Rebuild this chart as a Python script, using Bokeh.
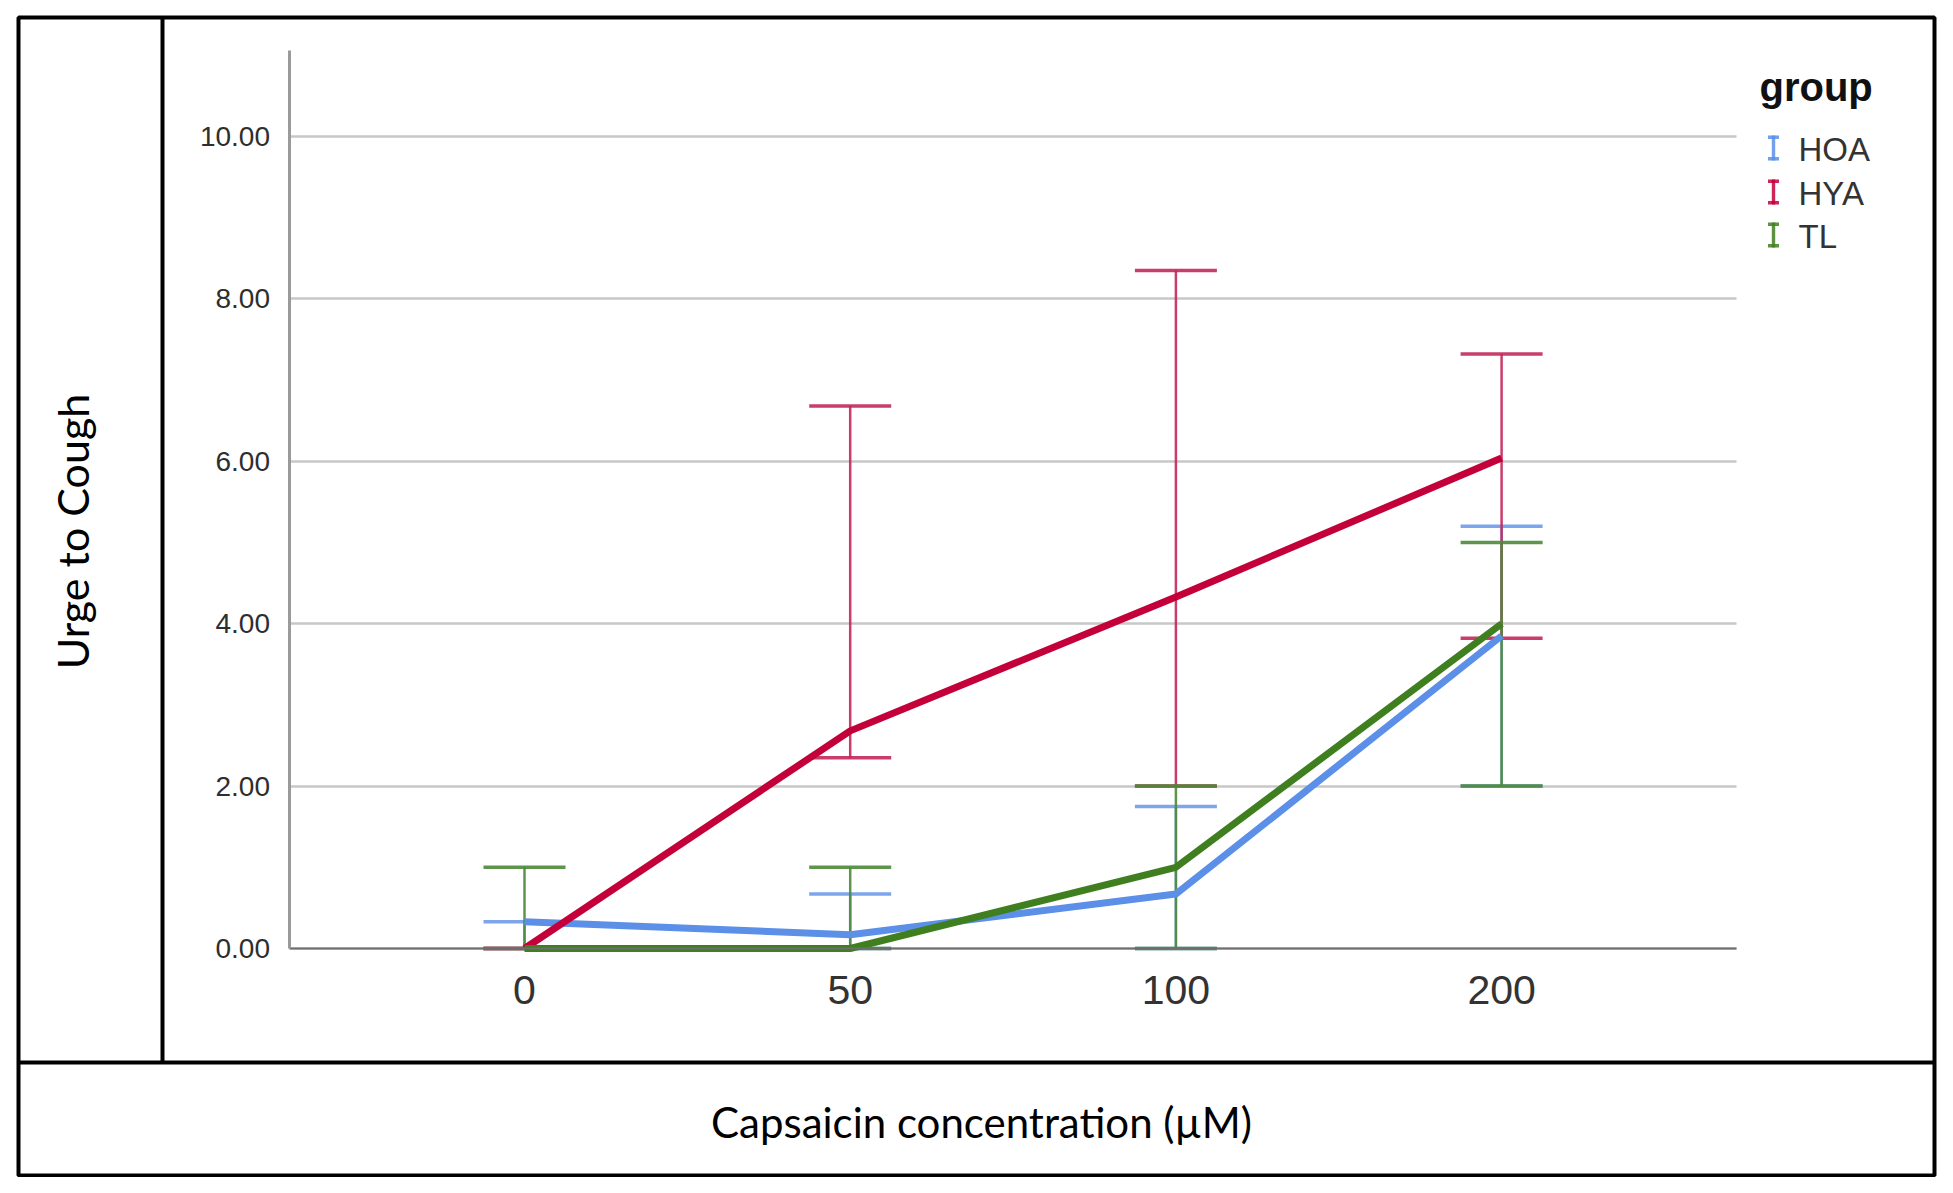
from math import pi
from bokeh.plotting import figure
from bokeh.models import (Range1d, FixedTicker, PrintfTickFormatter, Whisker, TeeHead,
                          ColumnDataSource, Label, BoxAnnotation, LinearAxis, Grid)
from bokeh.embed import file_html
from bokeh.resources import INLINE

# ---------------- data ----------------
conc_labels = ["0", "50", "100", "200"]
groups = ["HOA", "HYA", "TL"]

hoa_mean = [0.33, 0.17, 0.67, 3.85]
hoa_lower = [0.0, 0.0, 0.0, 2.0]
hoa_upper = [0.33, 0.67, 1.75, 5.20]

hya_mean = [0.0, 2.68, 4.33, 6.04]
hya_lower = [0.0, 2.35, 2.0, 3.82]
hya_upper = [0.0, 6.68, 8.35, 7.32]

tl_mean = [0.0, 0.0, 1.0, 4.0]
tl_lower = [0.0, 0.0, 0.0, 2.0]
tl_upper = [1.0, 1.0, 2.0, 5.0]

y_ticks = [0, 2, 4, 6, 8, 10]
y_max = 11.06

line_colors = {"HOA": "#5B8FE8", "HYA": "#C4003A", "TL": "#3F7F1F"}
bar_colors = {"HOA": "#6E9BEA", "HYA": "#C2285A", "TL": "#4C8A38"}

series = {
    "HOA": (hoa_mean, hoa_lower, hoa_upper),
    "HYA": (hya_mean, hya_lower, hya_upper),
    "TL": (tl_mean, tl_lower, tl_upper),
}

# ---------------- geometry: the frame covers the whole canvas ----------------
W, H = 1937, 1177
PX_X = 325.7      # pixels per category step
X0_PX = 524.0     # pixel of first category
PX_Y = 81.2       # pixels per y unit
Y0_PX = 948.0     # pixel of y = 0
X_PAD = 0.72      # axis extends this far beyond first/last category

x_idx = list(range(len(conc_labels)))
x_lo, x_hi = x_idx[0] - X_PAD, x_idx[-1] + X_PAD

p = figure(width=W, height=H,
           x_range=Range1d(-X0_PX / PX_X, (W - X0_PX) / PX_X),
           y_range=Range1d(-(H - Y0_PX) / PX_Y, Y0_PX / PX_Y),
           output_backend="svg", toolbar_location=None,
           x_axis_location=None, y_axis_location=None,
           min_border=0, min_border_left=0, min_border_right=0,
           min_border_top=0, min_border_bottom=0)
p.outline_line_color = None
p.background_fill_color = "white"
p.border_fill_color = "white"
for g_ in p.grid:
    g_.visible = False


def sx(page_x):
    return page_x


def sy(page_y):
    return H - page_y


# grid lines
grid = Grid(dimension=1, ticker=FixedTicker(ticks=y_ticks),
            grid_line_color="#C8C8C8", grid_line_width=2.6)
if "cross_bounds" in Grid.properties():
    grid.cross_bounds = (x_lo, x_hi)
    p.add_layout(grid, "center")
else:
    p.segment(x0=[x_lo] * len(y_ticks), x1=[x_hi] * len(y_ticks), y0=y_ticks, y1=y_ticks,
              line_color="#C8C8C8", line_width=2.6)

# y axis
yax = LinearAxis(fixed_location=x_lo, bounds=(0, y_max))
yax.ticker = FixedTicker(ticks=y_ticks)
yax.formatter = PrintfTickFormatter(format="%.2f")
yax.major_label_text_font = "Liberation Sans"
yax.major_label_text_font_size = "28px"
yax.major_label_text_color = "#2E2E2E"
yax.major_tick_line_color = None
yax.minor_tick_line_color = None
yax.axis_line_color = "#9A9A9A"
yax.axis_line_width = 3
yax.major_label_standoff = 14
p.add_layout(yax, "left")

# x axis
xax = LinearAxis(fixed_location=0, bounds=(x_lo, x_hi))
xax.ticker = FixedTicker(ticks=x_idx)
xax.major_label_overrides = {i: lab for i, lab in zip(x_idx, conc_labels)}
xax.major_label_text_font = "Liberation Sans"
xax.major_label_text_font_size = "41px"
xax.major_label_text_color = "#333333"
xax.major_tick_line_color = None
xax.minor_tick_line_color = None
xax.axis_line_color = "#6E6E6E"
xax.axis_line_width = 2
xax.major_label_standoff = 21
p.add_layout(xax, "below")

# mean lines
for g in groups:
    mean, lo, up = series[g]
    p.line(x_idx, mean, line_color=line_colors[g], line_width=7, line_join="round")

# error bars
for g in groups:
    mean, lo, up = series[g]
    src = ColumnDataSource(dict(x=x_idx, lower=lo, upper=up))
    c = bar_colors[g]
    w = Whisker(source=src, base="x", lower="lower", upper="upper",
                line_color=c, line_width=2.5, line_alpha=0.9,
                upper_head=TeeHead(size=82, line_color=c, line_width=3.5, line_alpha=0.9),
                lower_head=TeeHead(size=82, line_color=c, line_width=3.5, line_alpha=0.9))
    p.add_layout(w)


def box(l, r, t, b, **kw):
    p.add_layout(BoxAnnotation(left=sx(l), right=sx(r), top=sy(t), bottom=sy(b),
                               left_units="screen", right_units="screen",
                               top_units="screen", bottom_units="screen", **kw))


# ---------------- table borders ----------------
box(18, 1934, 17, 1175, fill_color=None, fill_alpha=0,
    line_color="black", line_alpha=1, line_width=4)
box(160, 164, 17, 1062, fill_color="black", fill_alpha=1, line_color=None)
box(18, 1934, 1060, 1064, fill_color="black", fill_alpha=1, line_color=None)

# ---------------- axis titles ----------------
p.add_layout(Label(x=sx(72), y=sy(531), x_units="screen", y_units="screen",
                   text="Urge to Cough", angle=pi / 2, text_align="center",
                   text_baseline="middle", text_font="Lato", text_font_size="43px",
                   text_color="black"))
p.add_layout(Label(x=sx(981), y=sy(1121), x_units="screen", y_units="screen",
                   text="Capsaicin concentration (µM)", text_align="center",
                   text_baseline="middle", text_font="Lato", text_font_size="42px",
                   text_color="black"))

# ---------------- legend ----------------
p.add_layout(Label(x=sx(1759), y=sy(86), x_units="screen", y_units="screen",
                   text="group", text_align="left", text_baseline="middle",
                   text_font="Liberation Sans", text_font_style="bold",
                   text_font_size="40px", text_color="#111111"))
leg_centers = [149, 193, 236]
for g, cy in zip(groups, leg_centers):
    c = line_colors[g]
    top, bot = cy - 14, cy + 11
    box(1771.3, 1774.7, top, bot, fill_color=c, fill_alpha=0.85, line_color=None)
    box(1767.5, 1778.5, top, top + 3.5, fill_color=c, fill_alpha=0.85, line_color=None)
    box(1767.5, 1778.5, bot - 3.5, bot, fill_color=c, fill_alpha=0.85, line_color=None)
    p.add_layout(Label(x=sx(1798), y=sy(cy), x_units="screen", y_units="screen",
                       text=g, text_align="left", text_baseline="middle",
                       text_font="Liberation Sans", text_font_size="33px",
                       text_color="#333333"))

open("out.html", "w").write(file_html(p, INLINE))
